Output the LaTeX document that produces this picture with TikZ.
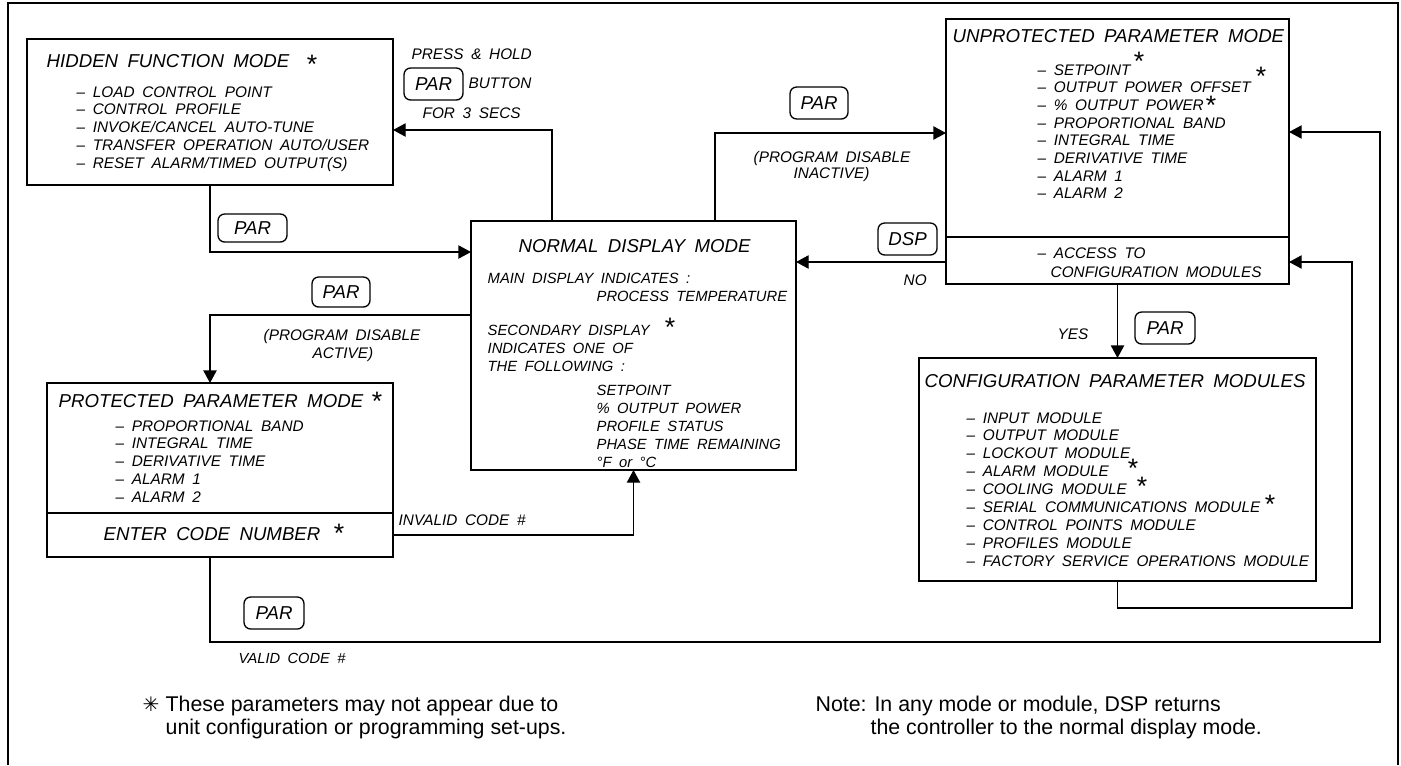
\documentclass[tikz,border=0pt]{standalone}
\usepackage{fontspec}
\setmainfont{Liberation Sans}
\newfontfamily\cad[WordSpace=1.8]{Liberation Sans}
\newfontfamily\symf{DejaVu Sans}
\usetikzlibrary{arrows.meta}
\newlength\pxu \setlength\pxu{0.75pt}
\begin{document}
\begin{tikzpicture}[x=0.75pt,y=-0.75pt,line width=1pt,
  arr/.style={-{Triangle[length=9.5pt,width=10pt]}},
  mbox/.style={draw,inner sep=0pt,outer sep=0pt},
  btn/.style={draw,rounded corners=5pt,inner sep=0pt,font=\cad\itshape\fontsize{14}{16}\selectfont},
  ttl/.style={anchor=base west,inner sep=0pt,font=\cad\itshape\fontsize{14}{16}\selectfont},
  itm/.style={anchor=base west,inner sep=0pt,font=\cad\itshape\fontsize{11.5}{13}\selectfont},
  ndi/.style={anchor=base west,inner sep=0pt,font=\cad\itshape\fontsize{11.1}{13}\selectfont},
  sml/.style={anchor=base west,inner sep=0pt,font=\cad\itshape\fontsize{11}{12}\selectfont},
  ast/.style={anchor=base,inner sep=0pt,yshift=-10pt,font=\cad\fontsize{20}{20}\selectfont},
  note/.style={anchor=base west,inner sep=0pt,font=\fontsize{16}{18}\selectfont}]
\useasboundingbox (0,0) rectangle (1401,765);
\draw[line width=1.4pt] (8,765) -- (8,3) -- (1398,3) -- (1398,765);

% boxes
\node[mbox,minimum width=366\pxu,minimum height=146\pxu] (hid) at (210,112) {};
\node[mbox,minimum width=325\pxu,minimum height=249\pxu] (nor) at (633.5,345.5) {};
\node[mbox,minimum width=343\pxu,minimum height=265\pxu] (unp) at (1117.5,151.5) {};
\node[mbox,minimum width=346\pxu,minimum height=174\pxu] (pro) at (220,470) {};
\node[mbox,minimum width=397\pxu,minimum height=223\pxu] (cfg) at (1117.5,469.5) {};
\coordinate (du) at (0,237);
\draw (unp.west |- du) -- (unp.east |- du);
\coordinate (dp) at (0,513);
\draw (pro.west |- dp) -- (pro.east |- dp);

% buttons
\node[btn,minimum width=59\pxu,minimum height=32\pxu] (b1) at (433.5,84) {PAR};
\node[btn,minimum width=69\pxu,minimum height=28\pxu] (b2) at (252.5,228) {PAR};
\node[btn,minimum width=58\pxu,minimum height=30\pxu] (b3) at (341,292) {PAR};
\node[btn,minimum width=60\pxu,minimum height=32\pxu] (b4) at (274,613) {PAR};
\node[btn,minimum width=58\pxu,minimum height=32\pxu] (b5) at (819,103) {PAR};
\node[btn,minimum width=59\pxu,minimum height=32\pxu] (b6) at (907.5,239) {DSP};
\node[btn,minimum width=60\pxu,minimum height=32\pxu] (b7) at (1165,328) {PAR};

% hidden function mode
\node[ttl] (hidt) at (46,67) {HIDDEN FUNCTION MODE};
\node[ast] (hida) at (312,60) {*};
\foreach \t [count=\i from 0] in {LOAD CONTROL POINT,CONTROL PROFILE,INVOKE/CANCEL AUTO-TUNE,TRANSFER OPERATION AUTO/USER,RESET ALARM/TIMED OUTPUT(S)}
  \node[itm] (hid\i) at (76,97+17.75*\i) {–\ \t};

% top labels
\node[itm] (ph1) at (411,59) {PRESS \& HOLD};
\node[itm] (ph2) at (468,88) {BUTTON};
\node[itm] (ph3) at (422,118) {FOR 3 SECS};

% normal display mode
\node[ttl] (nort) at (518,252) {NORMAL DISPLAY MODE};
\node[ndi] (nd1) at (487,283) {MAIN DISPLAY INDICATES :};
\node[ndi] (nd2) at (596,301) {PROCESS TEMPERATURE};
\node[ndi] (nd3) at (487,335) {SECONDARY DISPLAY};
\node[ast] (nda) at (670,323) {*};
\node[ndi] (nd4) at (487,353) {INDICATES ONE OF};
\node[ndi] (nd5) at (487,371) {THE FOLLOWING :};
\foreach \t [count=\i from 0] in {SETPOINT,\% OUTPUT POWER,PROFILE STATUS,PHASE TIME REMAINING,°F or °C}
  \node[ndi] (ndl\i) at (596,395+18*\i) {\t};

% unprotected parameter mode
\node[ttl] (unpt) at (952,42) {UNPROTECTED PARAMETER MODE};
\node[ast] (unpa) at (1139,57) {*};
\foreach \t [count=\i from 0] in {SETPOINT,OUTPUT POWER OFFSET,\% OUTPUT POWER,PROPORTIONAL BAND,INTEGRAL TIME,DERIVATIVE TIME,ALARM 1,ALARM 2}
  \node[itm] (unp\i) at (1037,75+17.7*\i) {–\ \t};
\node[ast] (unpb) at (1261,72) {*};
\node[ast] (unpc) at (1211,101) {*};
\node[itm] (acc1) at (1037,258) {–\ ACCESS TO};
\node[itm] (acc2) at (1050,277) {CONFIGURATION MODULES};

% labels around
\node[itm] (pdi1) at (753,162) {(PROGRAM DISABLE};
\node[itm] (pdi2) at (793,178) {INACTIVE)};
\node[itm] (pda1) at (263,340) {(PROGRAM DISABLE};
\node[itm] (pda2) at (312,358) {ACTIVE)};
\node[itm] (no) at (903,285) {NO};
\node[itm] (yes) at (1057,339) {YES};
\node[itm] (inv) at (398,525) {INVALID CODE \#};
\node[sml] (val) at (238,663) {VALID CODE \#};

% protected parameter mode
\node[ttl] (prot) at (58,407) {PROTECTED PARAMETER MODE};
\node[ast] (proa) at (377,397) {*};
\foreach \t [count=\i from 0] in {PROPORTIONAL BAND,INTEGRAL TIME,DERIVATIVE TIME,ALARM 1,ALARM 2}
  \node[itm] (pro\i) at (115,431+17.75*\i) {–\ \t};
\node[ttl] (code) at (103,540) {ENTER CODE NUMBER};
\node[ast] (codea) at (339,529) {*};

% configuration parameter modules
\node[ttl] (cfgt) at (924,387) {CONFIGURATION PARAMETER MODULES};
\foreach \t [count=\i from 0] in {INPUT MODULE,OUTPUT MODULE,LOCKOUT MODULE,ALARM MODULE,COOLING MODULE,SERIAL COMMUNICATIONS MODULE,CONTROL POINTS MODULE,PROFILES MODULE,FACTORY SERVICE OPERATIONS MODULE}
  \node[itm] (cfg\i) at (966,423+17.9*\i) {–\ \t};
\node[ast] (cfga) at (1133,464) {*};
\node[ast] (cfgb) at (1142,482) {*};
\node[ast] (cfgc) at (1270,500) {*};

% connectors
\coordinate (k1) at (552,130);
\draw[arr] (nor.north -| k1) |- (hid.east |- k1);
\coordinate (k2) at (210,252);
\draw[arr] (hid.south) |- (nor.west |- k2);
\coordinate (k3) at (210,315);
\draw[arr] (nor.west |- k3) -| (pro.north -| k3);
\coordinate (k4) at (633.5,535);
\draw[arr] (pro.east |- k4) -| (nor.south);
\coordinate (k5) at (210,642);
\coordinate (k6) at (1380,132);
\draw[arr] (pro.south -| k5) -- (k5) -| (k6) -- (unp.east |- k6);
\coordinate (k7) at (715,133);
\draw[arr] (nor.north -| k7) |- (unp.west |- k7);
\coordinate (k8) at (1352,262);
\draw[arr] (unp.west |- k8) -- (nor.east |- k8);
\draw[arr] (unp.south) -- (cfg.north);
\coordinate (k9) at (1352,608);
\draw[arr] (cfg.south) |- (k9) -- (k8) -- (unp.east |- k8);

% notes
\node[inner sep=0pt,anchor=base,font=\symf\fontsize{15}{15}\selectfont] (nsa) at (151,711) {✳};
\node[note] (n1) at (165,711) {These parameters may not appear due to};
\node[note] (n2) at (165,734) {unit configuration or programming set-ups.};
\node[note] (n3) at (815,711) {Note: In any mode or module, DSP returns};
\node[note] (n4) at (870,734) {the controller to the normal display mode.};
\end{tikzpicture}
\end{document}
